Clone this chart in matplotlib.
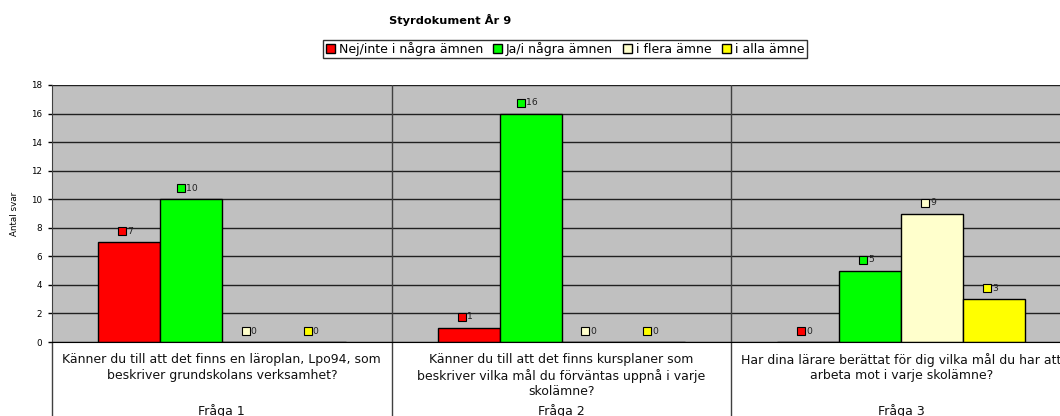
import matplotlib
matplotlib.use("Agg")
import matplotlib.pyplot as plt
import matplotlib.transforms as mtransforms
import numpy as np

plt.rcParams['font.family'] = ['DejaVu Sans']

title = "Styrdokument År 9"
series_names = ["Nej/inte i några ämnen", "Ja/i några ämnen", "i flera ämne", "i alla ämne"]
series_colors = ["#FF0000", "#00FF00", "#FFFFCC", "#FFFF00"]
questions = [
    "Känner du till att det finns en läroplan, Lpo94, som\nbeskriver grundskolans verksamhet?",
    "Känner du till att det finns kursplaner som\nbeskriver vilka mål du förväntas uppnå i varje\nskolämne?",
    "Har dina lärare berättat för dig vilka mål du har att\narbeta mot i varje skolämne?",
]
groups = ["Fråga 1", "Fråga 2", "Fråga 3"]
nej = [7, 1, 0]
ja = [10, 16, 5]
flera = [0, 0, 9]
alla = [0, 0, 3]
yticks = list(range(0, 19, 2))
ylabel = "Antal svar"

W, H = 1060, 416
fig = plt.figure(figsize=(W / 100, H / 100), dpi=100)
ax = fig.add_axes([52 / W, (H - 342) / H, (1071 - 52) / W, (342 - 85) / H])
ax.set_facecolor("#C0C0C0")

series = [nej, ja, flera, alla]
x = np.arange(len(questions))
bw = 62 / 340
offsets = (np.arange(4) - 1.5) * bw

for vals, name, col, off in zip(series, series_names, series_colors, offsets):
    ax.bar(x + off, vals, width=bw, color=col, edgecolor="black", linewidth=1.0,
           label=name, zorder=3)
    for xi, v in zip(x, vals):
        s = str(v)
        sq_off = -(4 + 3 * len(s))
        tr_sq = mtransforms.offset_copy(ax.transData, fig=fig, x=sq_off, y=11, units="dots")
        ax.plot([xi + off], [v], marker="s", markersize=5.2, markerfacecolor=col,
                markeredgecolor="black", markeredgewidth=0.8, linestyle="none",
                transform=tr_sq, zorder=5, clip_on=False)
        tr_tx = mtransforms.offset_copy(ax.transData, fig=fig, x=sq_off + 5, y=11, units="dots")
        ax.text(xi + off, v, s, transform=tr_tx, ha="left", va="center",
                fontsize=6.7, color="#222222", zorder=5)

ax.set_xlim(-0.5, 2.5)
ax.set_ylim(0, 18)
ax.set_yticks(yticks)
ax.set_yticklabels([str(t) for t in yticks], fontsize=6.3)
ax.tick_params(axis="y", length=3, width=1, pad=4, direction="out")
ax.set_xticks([])
ax.yaxis.grid(True, color="#202020", linewidth=1.0, zorder=1)
ax.set_axisbelow(True)
for b in [0.5, 1.5]:
    ax.axvline(b, color="#404040", linewidth=1.0, zorder=2)
for sp in ["top", "right"]:
    ax.spines[sp].set_visible(False)
ax.spines["left"].set_color("#404040")
ax.spines["bottom"].set_color("black")
ax.spines["bottom"].set_zorder(4)

for b in [-0.5, 0.5, 1.5]:
    ax.axvline(b, ymin=-0.3, ymax=0, color="#404040", linewidth=1.0, clip_on=False)

ax.set_ylabel(ylabel, fontsize=6.3, labelpad=9)

tr = mtransforms.blended_transform_factory(ax.transData, fig.transFigure)
for xi, q, g in zip(x, questions, groups):
    for i, line in enumerate(q.split("\n")):
        ax.text(xi, (H - (360 + 15.7 * i)) / H, line, transform=tr, ha="center",
                va="center", fontsize=9, color="#111111")
    ax.text(xi, (H - 411) / H, g, transform=tr, ha="center", va="center",
            fontsize=9, color="#111111")

fig.text(450 / W, (H - 20) / H, title, ha="center", va="center", fontsize=8.2,
         fontweight="bold")

leg = fig.legend(loc="center", bbox_to_anchor=(565 / W, (H - 49) / H),
                 bbox_transform=fig.transFigure, ncol=4, fontsize=9, frameon=True,
                 handlelength=0.75, handleheight=0.75, handletextpad=0.3,
                 columnspacing=0.8, borderpad=0.2, fancybox=False)
leg.get_frame().set_edgecolor("black")
leg.get_frame().set_linewidth(1.0)

fig.savefig("out.png", dpi=100)
